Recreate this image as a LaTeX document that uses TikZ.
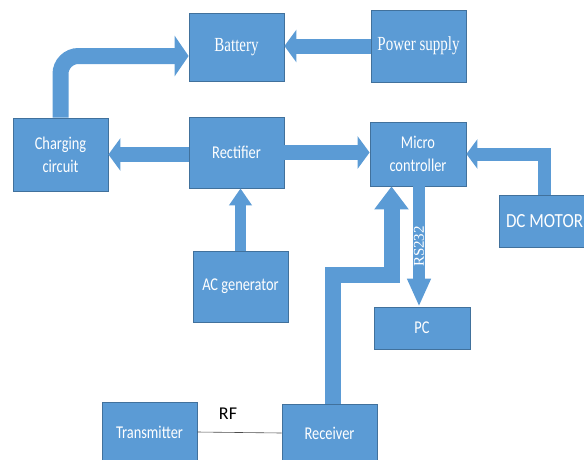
\documentclass[tikz,border=0pt]{standalone}
\usepackage{fontspec}
\setmainfont{Carlito}
\newfontfamily\boxfont{Carlito}[FakeStretch=0.8]
\newfontfamily\capsfont{Carlito}[FakeStretch=0.85]
\newfontfamily\timesfont{Liberation Serif}[FakeStretch=0.75]
\newfontfamily\rsfont{Liberation Serif}
\usetikzlibrary{arrows.meta}
\definecolor{boxblue}{HTML}{5B9BD5}
\definecolor{boxedge}{HTML}{41719C}

\begin{document}
\begin{tikzpicture}[x=1pt,y=-1pt,
  block/.style={draw=boxedge, line width=0.8pt, fill=boxblue, text=white, align=center,
    inner sep=0pt, font=\boxfont\fontsize{18}{23}\selectfont},
  serifblock/.style={block, font=\timesfont\fontsize{20}{22}\selectfont},
  bigarrow/.style={draw=boxblue, line width=15pt, -{Triangle[length=12pt,width=32pt]}},
  thinarrow/.style={draw=boxblue, line width=11pt, -{Triangle[length=17pt,width=22pt]}}]
  \useasboundingbox (0,0) rectangle (584,459);

  \node[serifblock, minimum width=95pt, minimum height=68pt] (bat) at (236.5,47) {Battery};
  \node[serifblock, minimum width=95pt, minimum height=72pt] (psu) at (418.5,46) {Power supply};
  \node[block, minimum width=95pt, minimum height=73pt] (chg) at (60.5,154.5) {Charging\\circuit};
  \node[block, minimum width=95pt, minimum height=71pt] (rect) at (236.5,152.5) {Rectifier};
  \node[block, minimum width=96pt, minimum height=64pt] (mcu) at (418,154) {Micro\\controller};
  \node[block, minimum width=91pt, minimum height=52pt, font=\capsfont\fontsize{20}{22}\selectfont] (dcm) at (544.5,221) {DC MOTOR};
  \node[block, minimum width=95pt, minimum height=71pt] (acg) at (240.5,286.5) {AC generator};
  \node[block, minimum width=96pt, minimum height=42pt] (pc) at (422,328) {PC};
  \node[block, minimum width=95pt, minimum height=60pt] (tx) at (149.5,432) {Transmitter};
  \node[block, minimum width=95pt, minimum height=58pt] (rx) at (329.5,433) {Receiver};

  \draw[bigarrow] (psu.west) -- (psu.west -| bat.east);
  \draw[bigarrow, line width=16pt, rounded corners=18pt, -{Triangle[length=14pt,width=40pt]}]
    (chg.north) |- ([yshift=-9pt]bat.west);
  \draw[bigarrow] (rect.west |- chg.east) -- (chg.east);
  \draw[bigarrow] (rect.east) -- (rect.east -| mcu.west);
  \draw[thinarrow] (acg.north) -- (acg.north |- rect.south);
  \draw[bigarrow, line width=13pt, -{Triangle[length=11pt,width=29pt]}] (dcm.north) |- (mcu.east);
  \draw[thinarrow, line width=12pt, -{Triangle[length=28pt,width=22pt]}]
    ([xshift=1pt]mcu.south) -- ([xshift=1pt]mcu.south |- pc.north)
    node[midway, rotate=90, text=white, font=\rsfont\fontsize{15}{15}\selectfont] {RS232};

  \coordinate (jog) at (391.5,275);
  \draw[bigarrow, line width=16pt, -{Triangle[length=23pt,width=33pt]}]
    ([xshift=3pt]rx.north) |- (jog) -- (jog |- mcu.south);

  \draw[black!70, line width=0.6pt] (tx.east) -- (rx.west);
  \node[font=\fontsize{18}{18}\selectfont] (rf) at (228,414) {RF};
\end{tikzpicture}
\end{document}
